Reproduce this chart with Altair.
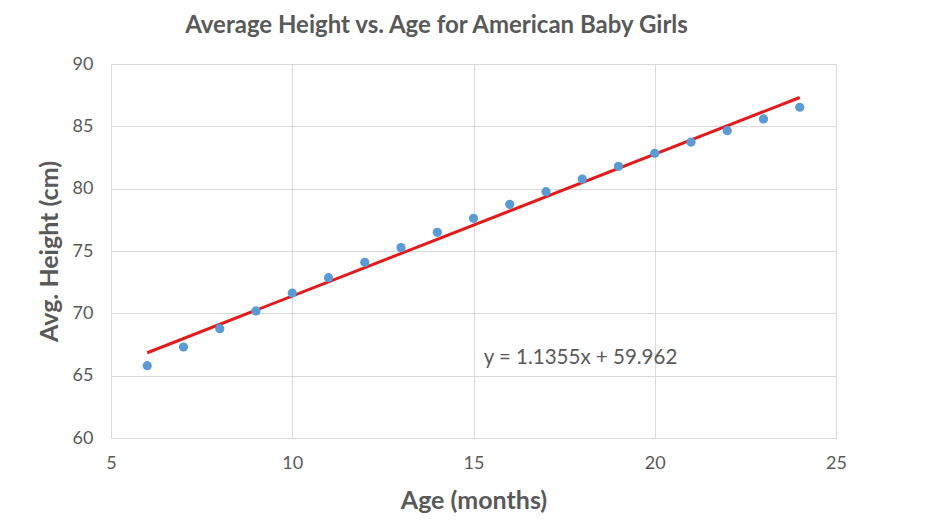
import altair as alt
import pandas as pd

ages = [6, 7, 8, 9, 10, 11, 12, 13, 14, 15, 16, 17, 18, 19, 20, 21, 22, 23, 24]
heights = [65.80, 67.30, 68.77, 70.19, 71.63, 72.86, 74.09, 75.27, 76.50, 77.62,
           78.74, 79.76, 80.77, 81.79, 82.84, 83.74, 84.65, 85.59, 86.53]
x_ticks = [5, 10, 15, 20, 25]
y_ticks = [60, 65, 70, 75, 80, 85, 90]
equation = "y = 1.1355x + 59.962"
eq_pos = {"x": 15.28, "y": 66.45}

df = pd.DataFrame({"age": ages, "height": heights})
eq_df = pd.DataFrame({"x": [eq_pos["x"]], "y": [eq_pos["y"]], "label": [equation]})

FONT = "Lato"
GRAY = "#595959"

x_enc = alt.X("age:Q", scale=alt.Scale(domain=[5, 25], nice=False),
              axis=alt.Axis(values=x_ticks, title="Age (months)"))
y_enc = alt.Y("height:Q", scale=alt.Scale(domain=[60, 90], nice=False, zero=False),
              axis=alt.Axis(values=y_ticks, title="Avg. Height (cm)"))

points = alt.Chart(df).mark_circle(size=85, color="#5b9bd5", opacity=1).encode(x=x_enc, y=y_enc)

trend = alt.Chart(df).transform_regression("age", "height").mark_line(
    color="#e31a1c", strokeWidth=3
).encode(x="age:Q", y="height:Q")

eq_text = alt.Chart(eq_df).mark_text(
    align="left", baseline="middle", font=FONT, fontSize=20.5, color=GRAY
).encode(x=alt.X("x:Q"), y=alt.Y("y:Q"), text="label:N")

chart = alt.layer(trend, points, eq_text).properties(
    width=725, height=374,
    autosize=alt.AutoSizeParams(type="none"),
    padding={"left": 103, "top": 56, "right": 80, "bottom": 80},
    title=alt.TitleParams(
        "Average Height vs. Age for American Baby Girls",
        font=FONT, fontSize=24, fontWeight="bold", color=GRAY,
        anchor="middle", dx=-37, offset=17,
    ),
).configure_view(
    stroke="#d9d9d9", strokeWidth=1
).configure_axis(
    grid=True, gridColor="#d9d9d9", gridWidth=1,
    domain=False, ticks=False, labelFlush=False,
    labelFont=FONT, labelFontSize=18, labelColor=GRAY,
    titleFont=FONT, titleFontWeight="bold", titleColor=GRAY,
).configure_axisX(
    labelPadding=16, titlePadding=16, titleFontSize=25,
).configure_axisY(
    labelPadding=18, titlePadding=10, titleFontSize=25,
)

chart.save("out.html", embed_options={"renderer": "svg", "actions": False})
